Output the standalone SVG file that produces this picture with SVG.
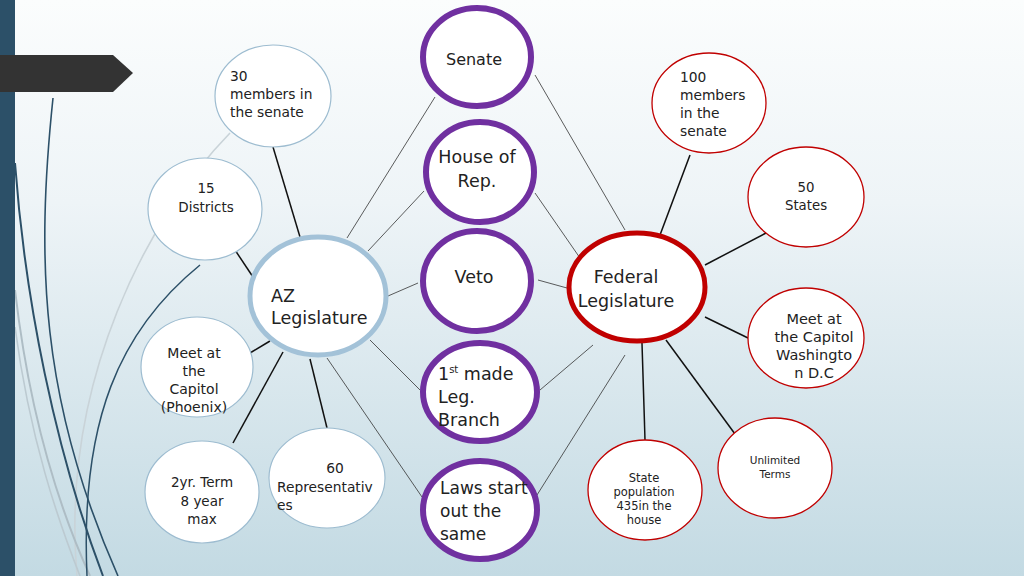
<svg xmlns="http://www.w3.org/2000/svg" width="1024" height="576" viewBox="0 0 1024 576">
<defs>
<linearGradient id="bg" x1="0" y1="0" x2="0" y2="1">
<stop offset="0" stop-color="#fbfdfd"/>
<stop offset="0.35" stop-color="#eef4f7"/>
<stop offset="1" stop-color="#c3dae3"/>
</linearGradient>
</defs>
<style>
.t{font-family:"DejaVu Sans","Liberation Sans",sans-serif;fill:#222}
.big{font-size:17.5px}
.purple{fill:#fff;stroke:#7030a0;stroke-width:6}
.fed{fill:#fff;stroke:#c00000;stroke-width:5}
.az{fill:#fff;stroke:#a3c2d8;stroke-width:5}
.azs{fill:#fff;stroke:#9dbcd0;stroke-width:1.2}
.reds{fill:#fff;stroke:#c00000;stroke-width:1.3}
.thick{stroke:#111;stroke-width:1.5;fill:none}
.thin{stroke:#333;stroke-width:0.8;fill:none}
.deco{fill:none}
</style>
<rect width="1024" height="576" fill="url(#bg)"/>
<g id="decoration">
<path class="deco" d="M230,133 C150,215 60,380 77,576" stroke="#c9d3d8" stroke-width="1.6"/>
<path class="deco" d="M15,290 C30,420 60,510 90,576" stroke="#aebdc5" stroke-width="2"/>
<path class="deco" d="M15,327 C30,440 58,520 80,576" stroke="#bccad1" stroke-width="1.6"/>
<path class="deco" d="M53,98 C36,260 40,400 118,576" stroke="#2c5068" stroke-width="1.6"/>
<path class="deco" d="M15,163 C25,300 55,450 103,576" stroke="#2c5068" stroke-width="2"/>
<path class="deco" d="M200,265 C120,330 80,420 87,576" stroke="#2c5068" stroke-width="1.5"/>
<rect x="0" y="0" width="15" height="576" fill="#2c5068"/>
<polygon points="0,55 113,55 133,73 113,92 0,92" fill="#333333"/>
</g>
<g id="connectors">
<line class="thick" x1="273" y1="147" x2="300" y2="237"/>
<line class="thick" x1="235" y1="250" x2="253" y2="277"/>
<line class="thick" x1="250" y1="353" x2="270" y2="341"/>
<line class="thick" x1="233" y1="443" x2="283" y2="352"/>
<line class="thick" x1="327" y1="428" x2="310" y2="359"/>
<line class="thin" x1="327" y1="358" x2="422" y2="497"/>
<line class="thin" x1="370" y1="340" x2="420" y2="390"/>
<line class="thin" x1="388" y1="296" x2="418" y2="283"/>
<line class="thin" x1="368" y1="251" x2="424" y2="191"/>
<line class="thin" x1="347" y1="238" x2="435" y2="97"/>
<line class="thin" x1="535" y1="75" x2="625" y2="230"/>
<line class="thin" x1="535" y1="193" x2="580" y2="258"/>
<line class="thin" x1="538" y1="280" x2="567" y2="288"/>
<line class="thin" x1="540" y1="390" x2="593" y2="345"/>
<line class="thin" x1="537" y1="495" x2="625" y2="355"/>
<line class="thick" x1="660" y1="235" x2="690" y2="155"/>
<line class="thick" x1="705" y1="265" x2="766" y2="233"/>
<line class="thick" x1="705" y1="317" x2="748" y2="338"/>
<line class="thick" x1="666" y1="340" x2="735" y2="434"/>
<line class="thick" x1="642" y1="343" x2="645" y2="440"/>
</g>
<g id="n-senate"><ellipse class="purple" cx="477" cy="57" rx="54" ry="49"/><text class="t" font-size="16" x="474" y="65" text-anchor="middle">Senate</text></g>
<g id="n-house"><ellipse class="purple" cx="480" cy="172" rx="54" ry="50"/><text class="t big" text-anchor="middle"><tspan x="477" y="163">House of</tspan><tspan x="477" y="187">Rep.</tspan></text></g>
<g id="n-veto"><ellipse class="purple" cx="477" cy="281" rx="54" ry="50"/><text class="t big" x="474" y="283" text-anchor="middle">Veto</text></g>
<g id="n-first"><ellipse class="purple" cx="480" cy="392" rx="57" ry="49"/><text class="t big"><tspan x="438" y="380">1</tspan><tspan font-size="10" dy="-7">st</tspan><tspan dy="7"> made</tspan><tspan x="438" y="403">Leg.</tspan><tspan x="438" y="426">Branch</tspan></text></g>
<g id="n-laws"><ellipse class="purple" cx="480" cy="510" rx="57" ry="49"/><text class="t" font-size="17"><tspan x="440" y="494">Laws start</tspan><tspan x="440" y="517">out the</tspan><tspan x="440" y="540">same</tspan></text></g>
<g id="n-az"><ellipse class="az" cx="318" cy="296" rx="68" ry="59"/><text class="t big"><tspan x="271" y="302">AZ</tspan><tspan x="271" y="324">Legislature</tspan></text></g>
<g id="n-fed"><ellipse class="fed" cx="637" cy="287" rx="68" ry="54"/><text class="t big" text-anchor="middle"><tspan x="626" y="283">Federal</tspan><tspan x="626" y="307">Legislature</tspan></text></g>
<g id="n-az30"><ellipse class="azs" cx="273" cy="96" rx="58" ry="51"/><text class="t" font-size="13.8"><tspan x="230" y="81">30</tspan><tspan x="230" y="99">members in</tspan><tspan x="230" y="117">the senate</tspan></text></g>
<g id="n-az15"><ellipse class="azs" cx="205" cy="209" rx="57" ry="51"/><text class="t" font-size="13.5" text-anchor="middle"><tspan x="206" y="193">15</tspan><tspan x="206" y="212">Districts</tspan></text></g>
<g id="n-azmeet"><ellipse class="azs" cx="197" cy="367" rx="56" ry="50"/><text class="t" font-size="14" text-anchor="middle"><tspan x="194" y="358">Meet at</tspan><tspan x="194" y="376">the</tspan><tspan x="194" y="394">Capitol</tspan><tspan x="194" y="412">(Phoenix)</tspan></text></g>
<g id="n-az2yr"><ellipse class="azs" cx="202" cy="492" rx="57" ry="51"/><text class="t" font-size="13.5" text-anchor="middle"><tspan x="202" y="487">2yr. Term</tspan><tspan x="202" y="506">8 year</tspan><tspan x="202" y="524">max</tspan></text></g>
<g id="n-az60"><ellipse class="azs" cx="327" cy="478" rx="58" ry="50"/><text class="t" font-size="13.8"><tspan x="335" y="473" text-anchor="middle">60</tspan><tspan x="277" y="492">Representativ</tspan><tspan x="277" y="510">es</tspan></text></g>
<g id="n-fed100"><ellipse class="reds" cx="709" cy="103" rx="57" ry="50"/><text class="t" font-size="13.8"><tspan x="680" y="82">100</tspan><tspan x="680" y="100">members</tspan><tspan x="680" y="118">in the</tspan><tspan x="680" y="136">senate</tspan></text></g>
<g id="n-fed50"><ellipse class="reds" cx="806" cy="197" rx="58" ry="50"/><text class="t" font-size="13.3" text-anchor="middle"><tspan x="806" y="192">50</tspan><tspan x="806" y="210">States</tspan></text></g>
<g id="n-fedmeet"><ellipse class="reds" cx="806" cy="338" rx="58" ry="50"/><text class="t" font-size="14.5" text-anchor="middle"><tspan x="814" y="324">Meet at</tspan><tspan x="814" y="342">the Capitol</tspan><tspan x="814" y="360">Washingto</tspan><tspan x="814" y="378">n D.C</tspan></text></g>
<g id="n-fedterms"><ellipse class="reds" cx="775" cy="468" rx="57" ry="50"/><text class="t" font-size="10.5" text-anchor="middle"><tspan x="775" y="464">Unlimited</tspan><tspan x="775" y="478">Terms</tspan></text></g>
<g id="n-fedpop"><ellipse class="reds" cx="645" cy="490" rx="57" ry="50"/><text class="t" font-size="11.5" text-anchor="middle"><tspan x="644" y="482">State</tspan><tspan x="644" y="496">population</tspan><tspan x="644" y="510">435in the</tspan><tspan x="644" y="524">house</tspan></text></g>
</svg>
